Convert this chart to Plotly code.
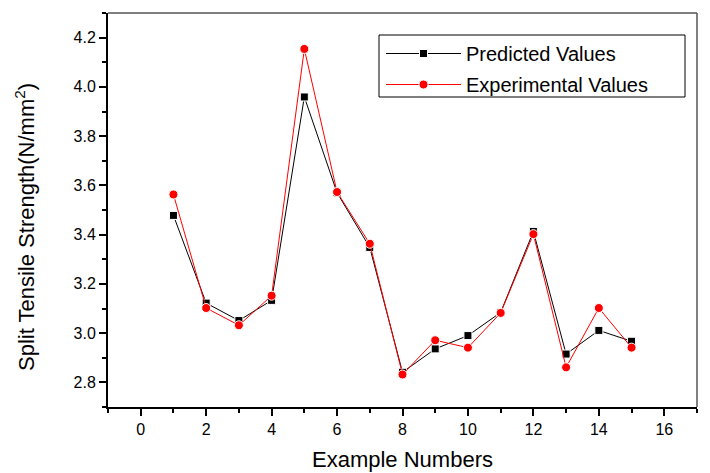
import plotly.graph_objects as go

examples = list(range(1, 16))
predicted = [3.478, 3.122, 3.051, 3.133, 3.959, 3.570, 3.348, 2.841, 2.936, 2.990, 3.084, 3.413, 2.915, 3.011, 2.967]
experimental = [3.563, 3.102, 3.032, 3.152, 4.154, 3.573, 3.363, 2.832, 2.971, 2.941, 3.082, 3.402, 2.861, 3.102, 2.941]
y_title = "Split Tensile Strength(N/mm<sup>2</sup>)"
x_title = "Example Numbers"

fig = go.Figure()
fig.add_trace(go.Scatter(
    x=examples, y=predicted, name="Predicted Values", mode="lines+markers",
    legendgroup="p",
    line=dict(color="black", width=1),
    marker=dict(symbol="square", size=8, color="black", line=dict(color="white", width=1)),
))
fig.add_trace(go.Scatter(
    x=examples, y=experimental, name="Experimental Values", mode="lines+markers",
    legendgroup="e",
    line=dict(color="red", width=1),
    marker=dict(symbol="circle", size=9, color="red", line=dict(color="white", width=1)),
))

font_family = "Liberation Sans, Arial, sans-serif"
L, R, T, B = 108, 13, 13, 66
W, H = 710, 473
pw, ph = W - L - R, H - T - B

def px_x(p):
    return (p - L) / pw

def px_y(p):
    return (H - B - p) / ph

fig.update_layout(
    width=W, height=H,
    margin=dict(l=L, r=R, t=T, b=B, autoexpand=False),
    paper_bgcolor="white", plot_bgcolor="white",
    font=dict(family=font_family, color="black"),
    legend=dict(
        x=px_x(381), y=px_y(34), xanchor="left", yanchor="top",
        borderwidth=0, bgcolor="rgba(0,0,0,0)",
        font=dict(size=20, family=font_family),
        itemwidth=75, tracegroupgap=2,
    ),
    xaxis=dict(
        range=[-1, 17], dtick=2, tick0=0, automargin=False,
        showgrid=False, zeroline=False,
        showline=True, linecolor="black", linewidth=2,
        ticks="outside", ticklen=7, tickwidth=1.5, tickcolor="black",
        minor=dict(dtick=1, tick0=0, ticks="outside", ticklen=4, tickwidth=1.5, tickcolor="black", showgrid=False),
        tickfont=dict(size=16),
        title=dict(text=x_title, font=dict(size=22), standoff=14),
    ),
    yaxis=dict(
        range=[2.7, 4.3], dtick=0.2, tick0=2.8, tickformat=".1f", automargin=False,
        showgrid=False, zeroline=False,
        showline=True, linecolor="black", linewidth=2,
        ticks="outside", ticklen=7, tickwidth=1.5, tickcolor="black",
        minor=dict(dtick=0.1, tick0=2.7, ticks="outside", ticklen=4, tickwidth=1.5, tickcolor="black", showgrid=False),
        tickfont=dict(size=16),
    ),
    annotations=[
        dict(text=y_title, xref="paper", yref="paper",
             x=px_x(25), y=px_y(227), xanchor="center", yanchor="middle",
             textangle=-90, showarrow=False, font=dict(size=22, family=font_family)),
    ],
    shapes=[
        dict(type="line", xref="paper", yref="paper", x0=1, x1=1, y0=0, y1=1,
             line=dict(color="#808080", width=2)),
        dict(type="line", xref="paper", yref="paper", x0=0, x1=1, y0=1, y1=1,
             line=dict(color="#555555", width=1.5)),
        dict(type="rect", xref="paper", yref="paper",
             x0=px_x(379), x1=px_x(685), y0=px_y(97), y1=px_y(35),
             line=dict(color="black", width=1), fillcolor="rgba(0,0,0,0)"),
    ],
)

fig.write_html("out.html", config={"displayModeBar": False},
               post_script="document.body.style.margin='0';")
